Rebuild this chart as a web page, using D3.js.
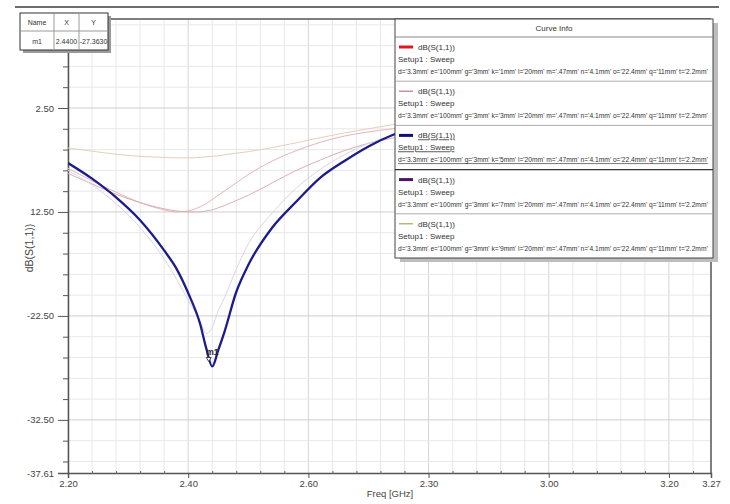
<!DOCTYPE html>
<html><head><meta charset="utf-8">
<script src="https://cdn.jsdelivr.net/npm/d3@7"></script>
<style>
html,body{margin:0;padding:0;background:#fff;}
svg{display:block;}
text{font-family:"Liberation Sans Narrow","Arial Narrow","Liberation Sans",sans-serif;}
</style></head>
<body>
<svg id="c" width="730" height="504"></svg>
<script>
// ---------- data ----------
const freqs = [2.20,2.24,2.28,2.32,2.36,2.38,2.40,2.42,2.43,2.44,2.45,2.46,2.48,2.50,2.54,2.58,2.62,2.66,2.70,2.74,2.80,2.90,3.00,3.10,3.20,3.27];
const k1mm = [-8.3,-9.5,-10.6,-11.6,-12.3,-12.5,-12.4,-12.0,-11.7,-11.3,-10.9,-10.5,-9.7,-8.9,-7.6,-6.6,-5.8,-5.2,-4.8,-4.5,-4.0,-3.3,-2.8,-2.4,-2.1,-2.0];
const k3mm = [-8.8,-9.8,-10.8,-11.6,-12.2,-12.4,-12.5,-12.5,-12.4,-12.3,-12.1,-11.9,-11.4,-10.9,-9.7,-8.5,-7.5,-6.6,-5.9,-5.4,-4.7,-3.8,-3.1,-2.6,-2.3,-2.2];
const k5mm = [-7.8,-9.3,-11.1,-13.3,-16.2,-17.9,-20.3,-23.3,-25.6,-27.36,-25.8,-24.1,-20.2,-17.6,-14.0,-11.5,-9.2,-7.6,-6.2,-5.1,-4.1,-3.0,-2.4,-2.0,-1.8,-1.7];
const k7mm = [-8.5,-9.9,-11.7,-14.0,-17.0,-18.9,-21.0,-23.0,-24.2,-23.6,-22.0,-20.8,-18.0,-15.6,-12.6,-10.2,-8.4,-7.0,-5.9,-5.2,-4.3,-3.2,-2.6,-2.2,-2.0,-1.9];
const k9mm = [-6.35,-6.65,-6.95,-7.15,-7.25,-7.3,-7.3,-7.25,-7.2,-7.15,-7.1,-7.0,-6.85,-6.7,-6.3,-5.85,-5.35,-4.9,-4.5,-4.1,-3.6,-2.9,-2.4,-2.0,-1.8,-1.7];

const seriesNames = ["k='1mm'","k='3mm'","k='5mm'","k='7mm'","k='9mm'"];
const seriesValues = [k1mm,k3mm,k5mm,k7mm,k9mm];
const plotColors = ["#e6b4bc","#d9b0b4","#1c1c8c","#d8d6ea","#e4d0b8"];
const plotWidths = [1,1,2.3,1,1];
const legendColors = ["#e8141c","#b87c80","#10107c","#4c1464","#a8a858"];
const legendWidths = [3,1.2,3,3,1.2];

const xTickVals = [2.20,2.40,2.60,2.80,3.00,3.20,3.27];
const xTickLabels = ["2.20","2.40","2.60","2.30","3.00","3.20","3.27"];
const yTickVals = [-2.5,-12.5,-22.5,-32.5,-37.61];
const yTickLabels = ["2.50","12.50","-22.50","-32.50","-37.61"];

const marker = {name:"m1", x:2.44, y:-27.363, xLabel:"2.4400", yLabel:"-27.3630"};

// ---------- layout ----------
const svg = d3.select("#c");
const L=68, R=711, T=19, B=473;
const x = d3.scaleLinear().domain([2.2,3.27]).range([L,R]);
const y = d3.scaleLinear().domain([-37.61,6.06]).range([B,T]);

// header line at very top
svg.append("line").attr("x1",15).attr("x2",719).attr("y1",7).attr("y2",7)
  .attr("stroke","#6e6e6e").attr("stroke-width",2.2);

// grid
const xMinor = d3.range(0,27).map(i=>2.2+i*0.04).filter(v=>v<3.265);
const yMinor = d3.range(-36.5,6.1,2);
const g = svg.append("g");
g.selectAll(".vx").data(xMinor).enter().append("line")
  .attr("x1",d=>x(d)).attr("x2",d=>x(d)).attr("y1",T).attr("y2",B)
  .attr("stroke",d=>Math.abs(((d-2.2)/0.2)-Math.round((d-2.2)/0.2))<1e-6?"#d4d4d4":"#e8e8e8").attr("stroke-width",1);
g.selectAll(".hy").data(yMinor).enter().append("line")
  .attr("x1",L).attr("x2",R).attr("y1",d=>y(d)).attr("y2",d=>y(d))
  .attr("stroke",d=>Math.abs(((d+2.5)/10)-Math.round((d+2.5)/10))<1e-6?"#cfcfcf":"#e8e8e8").attr("stroke-width",1);

// frame
svg.append("line").attr("x1",L).attr("x2",R).attr("y1",T).attr("y2",T).attr("stroke","#555").attr("stroke-width",1.5);
svg.append("line").attr("x1",R).attr("x2",R).attr("y1",T).attr("y2",B).attr("stroke","#555").attr("stroke-width",1.5);

// axes
const xAxis = d3.axisBottom(x).tickValues(xTickVals).tickSize(5)
  .tickFormat((d,i)=>xTickLabels[i]);
const xa = svg.append("g").attr("transform",`translate(0,${B})`).call(xAxis);
xa.select(".domain").attr("stroke","#555").attr("stroke-width",1.5);
xa.selectAll(".tick line").attr("stroke","#555");
xa.selectAll("text").attr("font-size",9.5).attr("fill","#444").attr("dy","0.6em");
const xm = svg.append("g").attr("transform",`translate(0,${B})`)
  .call(d3.axisBottom(x).tickValues(xMinor.filter(v=>!xTickVals.some(t=>Math.abs(t-v)<1e-6))).tickSize(3).tickFormat(""));
xm.select(".domain").remove(); xm.selectAll(".tick line").attr("stroke","#666").attr("transform","translate(0,-2)");

const yAxis = d3.axisLeft(y).tickValues(yTickVals).tickSize(10).tickPadding(4)
  .tickFormat((d,i)=>yTickLabels[i]);
const ya = svg.append("g").attr("transform",`translate(${L},0)`).call(yAxis);
ya.select(".domain").attr("stroke","#555").attr("stroke-width",1.5);
ya.selectAll(".tick line").attr("stroke","#555");
ya.selectAll("text").attr("font-size",9.5).attr("fill","#444");
const ym = svg.append("g").attr("transform",`translate(${L},0)`)
  .call(d3.axisLeft(y).tickValues(yMinor.filter(v=>!yTickVals.some(t=>Math.abs(t-v)<1e-6))).tickSize(5).tickFormat(""));
ym.select(".domain").remove(); ym.selectAll(".tick line").attr("stroke","#555");

// axis titles
svg.append("text").attr("x",390).attr("y",497).attr("text-anchor","middle")
  .attr("font-size",9.5).attr("fill","#444").text("Freq [GHz]");
svg.append("text").attr("transform","translate(33,248) rotate(-90)").attr("text-anchor","middle")
  .attr("font-size",10.5).attr("fill","#444").attr("font-family","'Liberation Sans','Arial',sans-serif")
  .text("dB(S(1,1))");

// curves
svg.append("clipPath").attr("id","pc").append("rect").attr("x",L).attr("y",T).attr("width",R-L).attr("height",B-T);
const line = d3.line().x((d,i)=>x(freqs[i])).y(d=>y(d)).curve(d3.curveMonotoneX);
const order = [4,0,1,3,2];
const cg = svg.append("g").attr("clip-path","url(#pc)");
order.forEach(i=>{
  cg.append("path").attr("d",line(seriesValues[i])).attr("fill","none")
    .attr("stroke",plotColors[i]).attr("stroke-width",plotWidths[i]);
});

// marker m1
const mx = x(marker.x), my = y(marker.y);
svg.append("path").attr("d",`M${mx-6},${my-9}L${mx-1},${my-9}L${mx-3.5},${my-5}Z`)
  .attr("fill","#fff").attr("stroke","#222").attr("stroke-width",0.8);
svg.append("text").attr("x",mx-6).attr("y",my-11).attr("font-size",8.5).attr("font-weight","bold")
  .attr("fill","#222").text(marker.name);

// marker table
const tb = svg.append("g");
tb.append("rect").attr("x",23).attr("y",16).attr("width",88).attr("height",37).attr("fill","#9a9a9a");
tb.append("rect").attr("x",20).attr("y",13).attr("width",88).attr("height",37).attr("fill","#fff").attr("stroke","#333").attr("stroke-width",1);
tb.append("line").attr("x1",20).attr("x2",108).attr("y1",31).attr("y2",31).attr("stroke","#999");
[54,79].forEach(cx=>tb.append("line").attr("x1",cx).attr("x2",cx).attr("y1",13).attr("y2",50).attr("stroke","#999"));
const tbt=[["Name",37,25],["X",66.5,25],["Y",93.5,25],[marker.name,37,44],[marker.xLabel,66.5,44],[marker.yLabel,93.5,44]];
tbt.forEach(t=>tb.append("text").attr("x",t[1]).attr("y",t[2]).attr("text-anchor","middle")
  .attr("font-size",7).attr("fill","#333").text(t[0]));

// legend
const LX=395, LY=19, LW=318, LH=239;
const lg = svg.append("g");
lg.append("rect").attr("x",LX+5).attr("y",LY+4).attr("width",LW).attr("height",LH).attr("fill","#bdbdbd");
lg.append("rect").attr("x",LX).attr("y",LY).attr("width",LW).attr("height",LH).attr("fill","#fff").attr("stroke","#444").attr("stroke-width",1);
lg.append("text").attr("x",LX+LW/2).attr("y",LY+12).attr("text-anchor","middle").attr("font-size",8).attr("fill","#333").text("Curve Info");
lg.append("line").attr("x1",LX).attr("x2",LX+LW).attr("y1",LY+18).attr("y2",LY+18).attr("stroke","#888");
const entryH = 44.2, e0 = LY+18;
seriesNames.forEach((nm,i)=>{
  const top = e0 + i*entryH;
  const sel = i===2;
  lg.append("line").attr("x1",LX+4).attr("x2",LX+18).attr("y1",top+10).attr("y2",top+10)
    .attr("stroke",legendColors[i]).attr("stroke-width",legendWidths[i]);
  const t1 = lg.append("text").attr("x",LX+23).attr("y",top+13).attr("font-size",8).attr("fill","#333").text("dB(S(1,1))");
  const t2 = lg.append("text").attr("x",LX+3).attr("y",top+25).attr("font-size",8).attr("fill","#333").text("Setup1 : Sweep");
  const t3 = lg.append("text").attr("x",LX+3).attr("y",top+37).attr("font-size",8).attr("fill","#333")
    .text(`d='3.3mm' e='100mm' g='3mm' ${nm} l='20mm' m='.47mm' n='4.1mm' o='22.4mm' q='11mm' t='2.2mm'`);
  const w = t3.node().getComputedTextLength();
  const avail = LW - 8;
  if (w > avail) t3.attr("font-size", (8*avail/w).toFixed(2));
  if(sel){[t1,t2,t3].forEach(t=>t.attr("text-decoration","underline"));}
  if(i<seriesNames.length-1){
    lg.append("line").attr("x1",LX).attr("x2",LX+LW).attr("y1",top+entryH).attr("y2",top+entryH)
      .attr("stroke",sel?"#333":"#999").attr("stroke-width",sel?1.4:0.8);
  }
});
</script>
</body></html>
